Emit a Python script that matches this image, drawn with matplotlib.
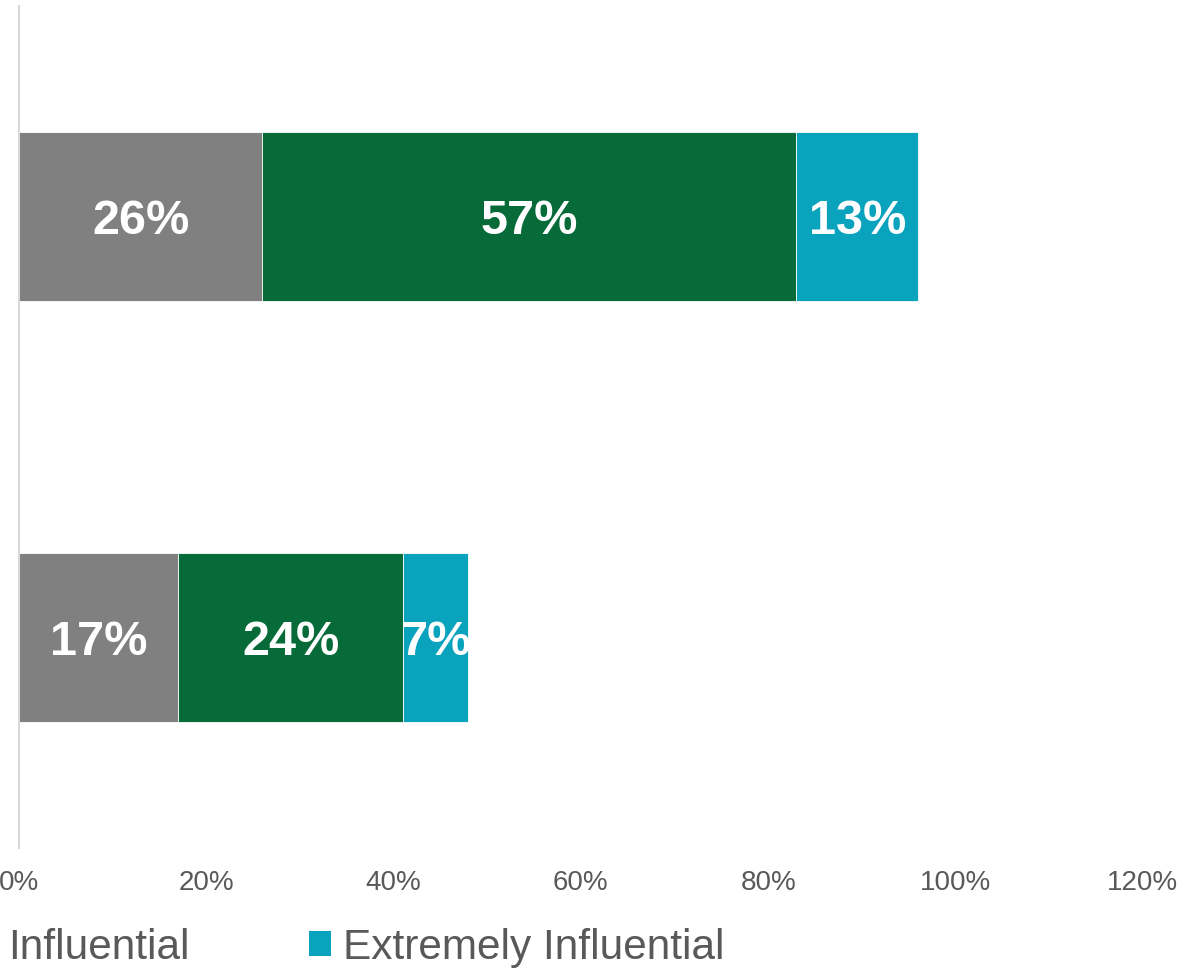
import numpy as np
import matplotlib.pyplot as plt
from matplotlib.patches import Patch

plt.rcParams['font.family'] = ['Liberation Sans', 'DejaVu Sans']

# Datos: dos grupos, tres niveles de influencia
categories = ['Group A', 'Group B']
somewhat = [0.26, 0.17]
influential = [0.57, 0.24]
extremely = [0.13, 0.07]
tick_values = [0, 0.2, 0.4, 0.6, 0.8, 1.0, 1.2]
tick_labels = ['0%', '20%', '40%', '60%', '80%', '100%', '120%']

colors = ['#808080', '#066B38', '#0AA3BE']
series = [somewhat, influential, extremely]

fig = plt.figure(figsize=(12, 9.76), dpi=100)
ax = fig.add_axes([0.0158, 0.1311, 0.9365, 0.8627])

y = np.arange(len(categories))
left = np.zeros(len(categories))
for vals, col in zip(series, colors):
    vals = np.array(vals)
    ax.barh(y, vals, left=left, height=0.4, color=col,
            edgecolor='white', linewidth=0.6)
    for yi, l, v in zip(y, left, vals):
        ax.text(l + v / 2, yi, f'{v * 100:.0f}%', ha='center',
                va='center_baseline', color='white', fontsize=35,
                fontweight='bold')
    left += vals

ax.set_xlim(0, 1.2)
ax.set_ylim(1.5, -0.5)
ax.set_xticks(tick_values)
ax.set_xticklabels(tick_labels)
ax.set_yticks([])
ax.tick_params(axis='x', length=0, pad=16, labelsize=20, labelcolor='#595959')

for s in ['top', 'right', 'bottom']:
    ax.spines[s].set_visible(False)
ax.spines['left'].set_color('#D9D9D9')
ax.spines['left'].set_linewidth(1.5)

# Leyenda: parte izquierda queda fuera del lienzo
handles = [Patch(facecolor=colors[1]), Patch(facecolor=colors[2])]
fig.legend(handles, ['Influential', 'Extremely Influential'],
           loc='center left', bbox_to_anchor=(-0.0215, 0.029),
           ncol=2, frameon=False, fontsize=30.5, labelcolor='#595959',
           handlelength=0.53, handleheight=0.53, handletextpad=0.26,
           columnspacing=2.83, borderpad=0, borderaxespad=0)

plt.savefig('out.png', dpi=100)
